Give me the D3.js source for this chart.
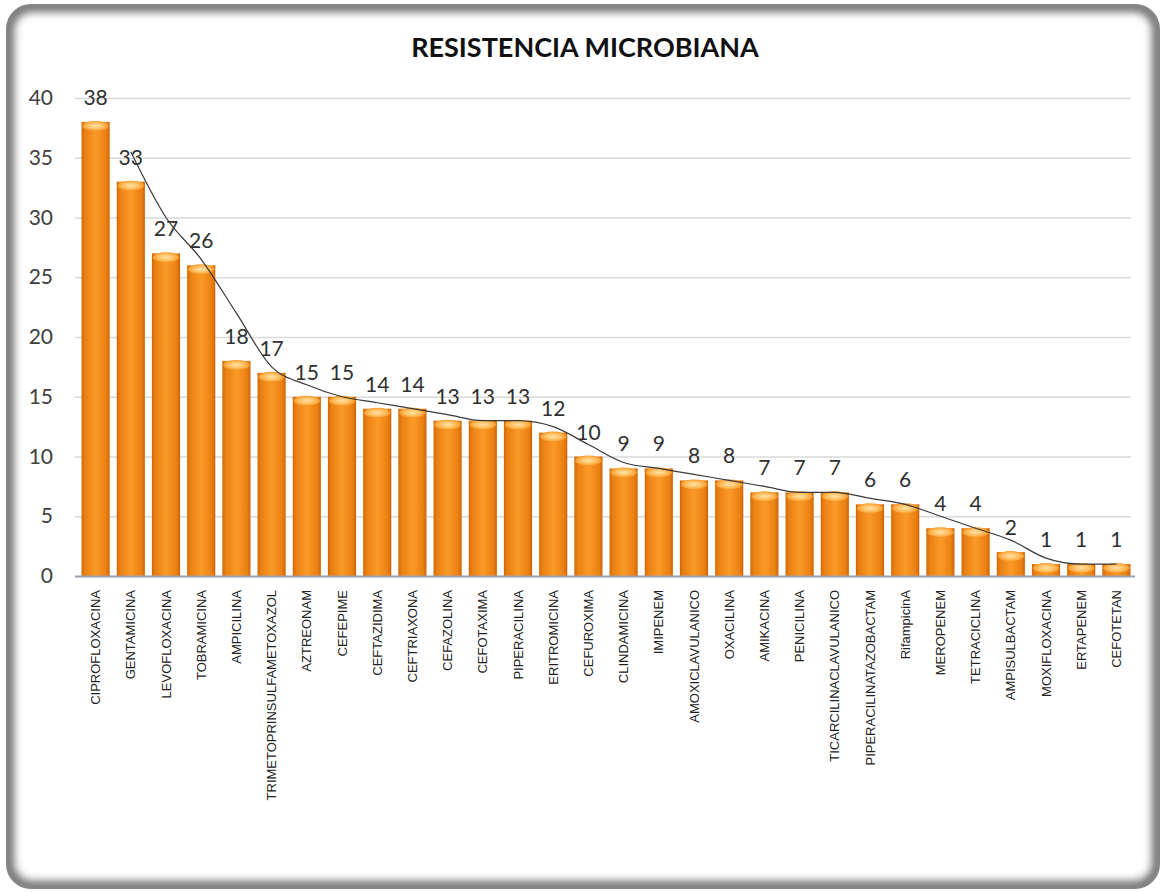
<!DOCTYPE html>
<html>
<head>
<meta charset="utf-8">
<script src="https://cdn.jsdelivr.net/npm/d3@7/dist/d3.min.js"></script>
<style>
html,body{margin:0;padding:0;background:#fff;}
svg{display:block;}
</style>
</head>
<body>
<script>
const categories = ["CIPROFLOXACINA","GENTAMICINA","LEVOFLOXACINA","TOBRAMICINA","AMPICILINA","TRIMETOPRINSULFAMETOXAZOL","AZTREONAM","CEFEPIME","CEFTAZIDIMA","CEFTRIAXONA","CEFAZOLINA","CEFOTAXIMA","PIPERACILINA","ERITROMICINA","CEFUROXIMA","CLINDAMICINA","IMIPENEM","AMOXICLAVULANICO","OXACILINA","AMIKACINA","PENICILINA","TICARCILINACLAVULANICO","PIPERACILINATAZOBACTAM","RifampicinA","MEROPENEM","TETRACICLINA","AMPISULBACTAM","MOXIFLOXACINA","ERTAPENEM","CEFOTETAN"];
const values = [38,33,27,26,18,17,15,15,14,14,13,13,13,12,10,9,9,8,8,7,7,7,6,6,4,4,2,1,1,1];
const yTicks = [0,5,10,15,20,25,30,35,40];
const title = "RESISTENCIA MICROBIANA";
const trendPeriod = 2;

const W = 1161, H = 892;
const plot = {left: 78, right: 1134, top: 98, bottom: 576};
const frame = {x: 7, y: 5, w: 1152, h: 883, r: 24};

const svg = d3.select("body").append("svg").attr("width", W).attr("height", H);
const defs = svg.append("defs");

// frame with inner shadow
defs.append("clipPath").attr("id","frameClip").append("rect")
  .attr("x",frame.x).attr("y",frame.y).attr("width",frame.w).attr("height",frame.h).attr("rx",frame.r);
defs.append("filter").attr("id","blur").attr("x","-5%").attr("y","-5%").attr("width","110%").attr("height","110%")
  .append("feGaussianBlur").attr("stdDeviation",4);

svg.append("rect").attr("x",frame.x).attr("y",frame.y).attr("width",frame.w).attr("height",frame.h)
  .attr("rx",frame.r).attr("fill","#ffffff");
const fg = svg.append("g").attr("clip-path","url(#frameClip)");
fg.append("rect").attr("x",frame.x+1).attr("y",frame.y+1).attr("width",frame.w-2).attr("height",frame.h-2)
  .attr("rx",frame.r).attr("fill","none").attr("stroke","#6e6e6e").attr("stroke-width",12).attr("filter","url(#blur)");
svg.append("rect").attr("x",frame.x).attr("y",frame.y).attr("width",frame.w).attr("height",frame.h)
  .attr("rx",frame.r).attr("fill","none").attr("stroke","#858585").attr("stroke-width",2);

// bar gradients
const gH = defs.append("linearGradient").attr("id","barH").attr("x1","0").attr("x2","1").attr("y1","0").attr("y2","0");
[[0,"#d26808"],[0.12,"#ea8012"],[0.5,"#fa9a28"],[0.88,"#ea8012"],[1,"#cc6406"]].forEach(s=>gH.append("stop").attr("offset",s[0]).attr("stop-color",s[1]));
const gC = defs.append("radialGradient").attr("id","cap").attr("cx","0.5").attr("cy","0.5").attr("r","0.5");
[[0,"#ffe2a8"],[0.6,"#ffc062"],[1,"#f79a2a"]].forEach(s=>gC.append("stop").attr("offset",s[0]).attr("stop-color",s[1]));

const x = d3.scaleBand().domain(categories).range([plot.left, plot.right]).paddingInner(0.2).paddingOuter(0.1);
const y = d3.scaleLinear().domain([0,40]).range([plot.bottom, plot.top]);

// gridlines
const grid = svg.append("g")
  .call(d3.axisLeft(y).tickValues(yTicks).tickSize(-(plot.right-plot.left)).tickFormat(""))
  .attr("transform",`translate(${plot.left-3},0)`);
grid.select(".domain").remove();
grid.selectAll("line").attr("stroke","#d9d9d9").attr("stroke-width",1.5);

// y tick labels
const yAx = svg.append("g").attr("transform",`translate(${plot.left-25},0)`)
  .call(d3.axisLeft(y).tickValues(yTicks).tickSize(0).tickPadding(0));
yAx.select(".domain").remove();
yAx.selectAll("text").attr("font-family","Lato, 'Open Sans', sans-serif").attr("font-size",21).attr("fill","#404040");

// bars
const bars = svg.append("g");
categories.forEach((c,i)=>{
  const bx = x(c), bw = x.bandwidth(), top = y(values[i]), h = plot.bottom - top;
  bars.append("rect").attr("x",bx).attr("y",top).attr("width",bw).attr("height",h).attr("fill","url(#barH)");
  bars.append("ellipse").attr("cx",bx+bw/2).attr("cy",top+4).attr("rx",bw/2-1).attr("ry",Math.min(5,h/2)).attr("fill","url(#cap)");
});

// x axis baseline
svg.append("line").attr("x1",plot.left-3).attr("x2",plot.right+1).attr("y1",plot.bottom+0.5).attr("y2",plot.bottom+0.5)
  .attr("stroke","#9aa3ad").attr("stroke-width",2);

// data labels
svg.append("g").selectAll("text").data(categories).join("text")
  .attr("x",d=>x(d)+x.bandwidth()/2)
  .attr("y",(d,i)=>y(values[i])-17)
  .attr("text-anchor","middle")
  .attr("font-family","Lato, 'Open Sans', sans-serif").attr("font-size",21).attr("fill","#303030")
  .text((d,i)=>values[i]);

// moving average trend line
const trend = [];
for(let i=trendPeriod-1;i<values.length;i++){
  let s=0; for(let k=0;k<trendPeriod;k++) s+=values[i-k];
  trend.push({c:categories[i], v:s/trendPeriod});
}
const line = d3.line().x(d=>x(d.c)+x.bandwidth()/2).y(d=>y(d.v)).curve(d3.curveMonotoneX);
svg.append("path").datum(trend).attr("d",line).attr("fill","none").attr("stroke","#3a3a3a").attr("stroke-width",1.2);

// x labels
svg.append("g").selectAll("text").data(categories).join("text")
  .attr("transform",d=>`translate(${x(d)+x.bandwidth()/2},${plot.bottom+14}) rotate(-90)`)
  .attr("dy","0.35em")
  .attr("text-anchor","end")
  .attr("font-family","'Liberation Sans', Arial, sans-serif").attr("font-size",13).attr("fill","#222")
  .text(d=>d);

// title
svg.append("text").attr("x",585).attr("y",57).attr("text-anchor","middle")
  .attr("font-family","Lato, 'Open Sans', sans-serif").attr("font-weight","bold").attr("font-size",27).attr("fill","#111")
  .text(title);
</script>
</body>
</html>
